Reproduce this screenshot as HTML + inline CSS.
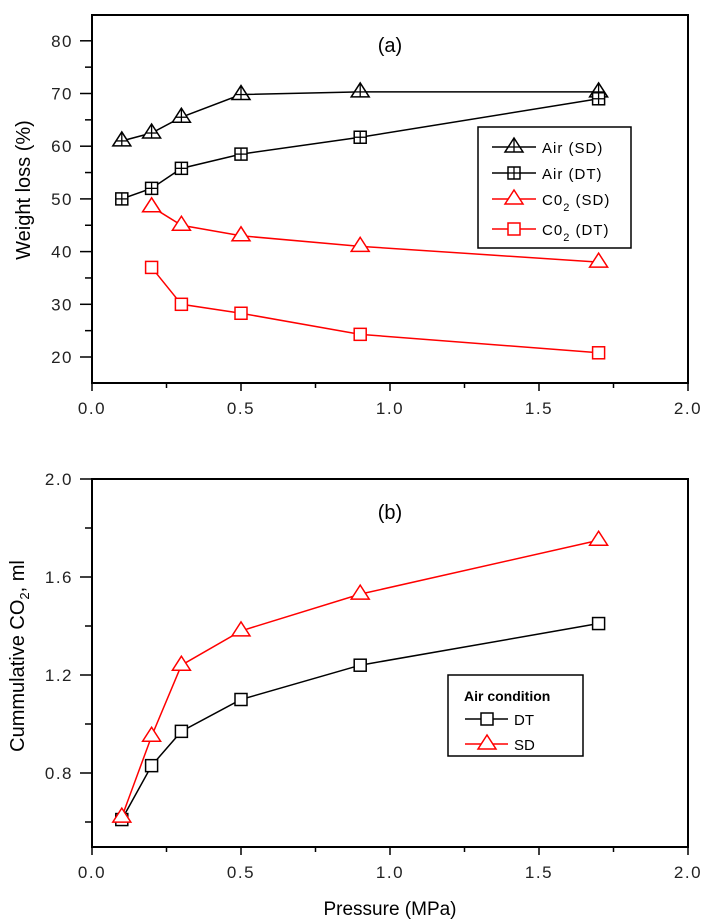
<!DOCTYPE html>
<html><head><meta charset="utf-8"><style>
body{margin:0;background:#fff}
svg{display:block;font-family:"Liberation Sans",sans-serif}
</style></head><body>
<svg id="c" width="703" height="922" viewBox="0 0 703 922"></svg>
<script>
const xCats=[0.1,0.2,0.3,0.5,0.9,1.7];
const airSD=[61,62.5,65.5,69.8,70.3,70.3];
const airDT=[50,52,55.8,58.5,61.7,69];
const co2X=[0.2,0.3,0.5,0.9,1.7];
const co2SD=[48.5,45,43,41,38];
const co2DT=[37,30,28.3,24.3,20.8];
const bDT=[0.61,0.83,0.97,1.10,1.24,1.41];
const bSD=[0.62,0.95,1.24,1.38,1.53,1.75];
const xTicks=[0,0.5,1.0,1.5,2.0];
const yTicksA=[20,30,40,50,60,70,80];
const yTicksB=[0.8,1.2,1.6,2.0];

const svg=document.getElementById('c');
const NS='http://www.w3.org/2000/svg';
function el(t,a,p){const e=document.createElementNS(NS,t);for(const k in a)e.setAttribute(k,a[k]);(p||svg).appendChild(e);return e;}
const X=v=>92+v*298;
const YA=v=>357-(v-20)*5.27;
const YB=v=>479+(2.0-v)*245;

function frame(name,top,bottom,Y,yt,minors,fmt){
  const g=el('g',{});
  
  
  el('rect',{x:92,y:top,width:596,height:bottom-top,fill:'none',stroke:'#000','stroke-width':2},g);
  xTicks.forEach(v=>{el('line',{x1:X(v),x2:X(v),y1:bottom,y2:bottom+8,stroke:'#000','stroke-width':1.5},g);
    const t=el('text',{x:X(v),y:bottom+31,'text-anchor':'middle','font-size':17,'letter-spacing':1.5,fill:'#222'},g);t.textContent=v.toFixed(1);});
  [0.25,0.75,1.25,1.75].forEach(v=>el('line',{x1:X(v),x2:X(v),y1:bottom,y2:bottom+5,stroke:'#000','stroke-width':1.5},g));
  yt.forEach(v=>{el('line',{x1:80,x2:92,y1:Y(v),y2:Y(v),stroke:'#000','stroke-width':1.5},g);
    const t=el('text',{x:73,y:Y(v)+6,'text-anchor':'end','font-size':17,'letter-spacing':1.5,fill:'#222'},g);t.textContent=fmt(v);});
  minors.forEach(v=>el('line',{x1:85,x2:92,y1:Y(v),y2:Y(v),stroke:'#000','stroke-width':1.5},g));
}
frame('chart-a-axes',15,383,YA,yTicksA,[25,35,45,55,65,75],v=>v);
frame('chart-b-axes',479,847,YB,yTicksB,[0.6,1.0,1.4,1.8],v=>v.toFixed(1));

function marker(g,type,x,y,c,extra){
  if(type==='tri'){el('polygon',{points:`${x},${y-9} ${x-9},${y+5} ${x+9},${y+5}`,fill:'#fff',stroke:c,'stroke-width':1.5},g);
    if(extra){el('line',{x1:x,x2:x,y1:y-9,y2:y+5,stroke:c,'stroke-width':1.3},g);el('line',{x1:x-6,x2:x+6,y1:y,y2:y,stroke:c,'stroke-width':1.3},g);}}
  else{el('rect',{x:x-6,y:y-6,width:12,height:12,fill:'#fff',stroke:c,'stroke-width':1.5},g);
    if(extra){el('line',{x1:x,x2:x,y1:y-6,y2:y+6,stroke:c,'stroke-width':1.3},g);el('line',{x1:x-6,x2:x+6,y1:y,y2:y,stroke:c,'stroke-width':1.3},g);}}
}
function series(name,xs,ys,Y,c,type,extra){
  const g=el('g',{});
  
  
  el('polyline',{points:xs.map((x,i)=>X(x)+','+Y(ys[i])).join(' '),fill:'none',stroke:c,'stroke-width':1.5},g);
  xs.forEach((x,i)=>marker(g,type,X(x),Y(ys[i]),c,extra));
}
series('air-sd-series',xCats,airSD,YA,'#000','tri',true);
series('air-dt-series',xCats,airDT,YA,'#000','sq',true);
series('co2-sd-series',co2X,co2SD,YA,'#f00','tri',false);
series('co2-dt-series',co2X,co2DT,YA,'#f00','sq',false);
series('dt-cumulative-series',xCats,bDT,YB,'#000','sq',false);
series('sd-cumulative-series',xCats,bSD,YB,'#f00','tri',false);

function txt(name,s,a){const t=el('text',a);t.innerHTML=s;return t;}
txt('panel-a-label','(a)',{x:390,y:52,'text-anchor':'middle','font-size':20});
txt('panel-b-label','(b)',{x:390,y:519,'text-anchor':'middle','font-size':20});
txt('y-axis-title-a','Weight loss (%)',{transform:'translate(30,190) rotate(-90)','text-anchor':'middle','font-size':20});
txt('y-axis-title-b','Cummulative CO<tspan font-size="13" dy="5">2</tspan><tspan dy="-5">, ml</tspan>',{transform:'translate(24,656) rotate(-90)','text-anchor':'middle','font-size':20});
txt('x-axis-title','Pressure (MPa)',{x:390,y:915,'text-anchor':'middle','font-size':19});

const la=el('g',{});


el('rect',{x:478,y:127,width:153,height:121,fill:'#fff',stroke:'#000','stroke-width':1.5},la);
[['Air (SD)','#000','tri',true,147],['Air (DT)','#000','sq',true,173],['C0<tspan font-size="11" dy="6">2</tspan><tspan dy="-6"> (SD)</tspan>','#f00','tri',false,199],['C0<tspan font-size="11" dy="6">2</tspan><tspan dy="-6"> (DT)</tspan>','#f00','sq',false,229]].forEach(r=>{
  el('line',{x1:492,x2:536,y1:r[4],y2:r[4],stroke:r[1],'stroke-width':1.5},la);
  marker(la,r[2],514,r[4],r[1],r[3]);
  const t=el('text',{x:542,y:r[4]+6,'font-size':15,'letter-spacing':1},la);t.innerHTML=r[0];
});
const lb=el('g',{});


el('rect',{x:448,y:675,width:135,height:81,fill:'#fff',stroke:'#000','stroke-width':1.5},lb);
let t=el('text',{x:464,y:701,'font-size':14,'font-weight':'bold'},lb);t.textContent='Air condition';
[['DT','#000','sq',719],['SD','#f00','tri',744]].forEach(r=>{
  el('line',{x1:465,x2:508,y1:r[3],y2:r[3],stroke:r[1],'stroke-width':1.5},lb);
  marker(lb,r[2],487,r[3],r[1],false);
  const tt=el('text',{x:514,y:r[3]+6,'font-size':15},lb);tt.textContent=r[0];
});
</script>
</body></html>
